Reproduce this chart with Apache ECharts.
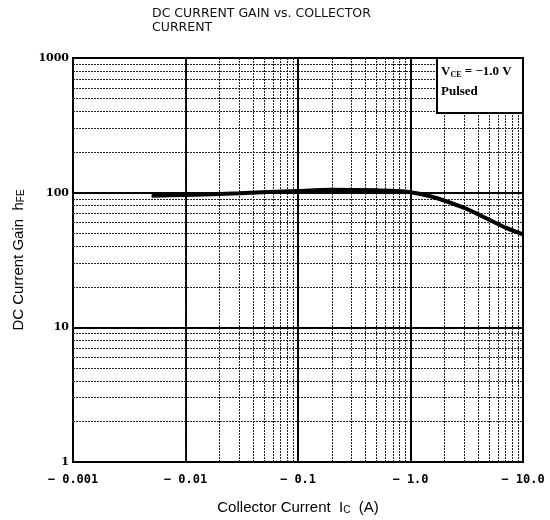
<!DOCTYPE html>
<html>
<head>
<meta charset="utf-8">
<script src="https://cdn.jsdelivr.net/npm/echarts@6/dist/echarts.min.js"></script>
<style>
  html, body { margin: 0; padding: 0; background: #fff; }
  #chart { width: 550px; height: 520px; }
</style>
</head>
<body>
<div id="chart"></div>
<script>
// collector current |Ic| (A) and DC current gain hFE
const current = [0.005, 0.01, 0.03, 0.1, 0.2, 0.5, 0.9, 1.5, 3, 5, 7, 10]
const gain = [95, 96, 99, 103, 105, 104, 102, 94, 77, 63, 55, 49]

// tick labels of the decades
const xTickLabels = ['\u2212 0.001', '\u2212 0.01', '\u2212 0.1', '\u2212 1.0', '\u2212 10.0']
const yTickLabels = ['1', '10', '100', '1000']

// log paper minor lines (2..9 of each decade)
const xMinor = [
  0.002, 0.003, 0.004, 0.005, 0.006, 0.007, 0.008, 0.009,
  0.02, 0.03, 0.04, 0.05, 0.06, 0.07, 0.08, 0.09,
  0.2, 0.3, 0.4, 0.5, 0.6, 0.7, 0.8, 0.9,
  2, 3, 4, 5, 6, 7, 8, 9
]
const yMinor = [
  2, 3, 4, 5, 6, 7, 8, 9,
  20, 30, 40, 50, 60, 70, 80, 90,
  200, 300, 400, 500, 600, 700, 800, 900
]

const chart = echarts.init(document.getElementById('chart'))

const minorLines = xMinor.map(v => ({ xAxis: v })).concat(yMinor.map(v => ({ yAxis: v })))

chart.setOption({
  animation: false,
  title: {
    text: 'DC CURRENT GAIN vs. COLLECTOR\nCURRENT',
    left: 147,
    top: 2,
    textStyle: {
      fontFamily: 'DejaVu Sans',
      fontSize: 12.5,
      fontWeight: 'normal',
      color: '#111',
      lineHeight: 14
    }
  },
  grid: {
    left: 73,
    right: 27,
    top: 58,
    bottom: 53,
    show: true,
    borderColor: '#000',
    borderWidth: 2
  },
  xAxis: {
    type: 'log',
    logBase: 10,
    min: 0.001,
    max: 10,
    name: '{n|Collector Current  I}{s|C}{n|  (A)}',
    nameLocation: 'middle',
    nameGap: 38,
    nameTextStyle: {
      rich: {
        n: { fontFamily: 'Liberation Sans', fontSize: 15, color: '#000' },
        s: { fontFamily: 'Liberation Sans', fontSize: 10, color: '#000', padding: [5, 0, 0, 0] }
      }
    },
    axisLine: { show: false },
    axisTick: { show: false },
    axisLabel: {
      margin: 12,
      fontFamily: 'DejaVu Sans Mono',
      fontWeight: 'bold',
      fontSize: 12,
      color: '#000',
      formatter: (v, i) => xTickLabels[i]
    },
    splitLine: { show: true, lineStyle: { color: '#000', width: 2 } }
  },
  yAxis: {
    type: 'log',
    logBase: 10,
    min: 1,
    max: 1000,
    name: '{n|DC Current Gain  h}{s|FE}',
    nameLocation: 'middle',
    nameGap: 47,
    nameTextStyle: {
      rich: {
        n: { fontFamily: 'Liberation Sans', fontSize: 15, color: '#000' },
        s: { fontFamily: 'Liberation Sans', fontSize: 10, color: '#000', padding: [5, 0, 0, 0] }
      }
    },
    axisLine: { show: false },
    axisTick: { show: false },
    axisLabel: {
      margin: 4,
      fontFamily: 'DejaVu Serif',
      fontWeight: 'bold',
      fontSize: 11,
      color: '#000',
      formatter: (v, i) => yTickLabels[i]
    },
    splitLine: { show: true, lineStyle: { color: '#000', width: 2 } }
  },
  series: [{
    type: 'line',
    data: current.map((c, i) => [c, gain[i]]),
    showSymbol: false,
    smooth: 0.25,
    lineStyle: { color: '#000', width: 4 },
    z: 5,
    markLine: {
      silent: true,
      symbol: 'none',
      label: { show: false },
      lineStyle: { color: '#222', width: 1, type: [2, 1] },
      data: minorLines,
      z: 1
    }
  }],
  graphic: [{
    type: 'rect',
    z: 100,
    zlevel: 1,
    shape: { x: 437, y: 58, width: 86, height: 55 },
    style: { fill: '#fff', stroke: '#000', lineWidth: 2 }
  }, {
    type: 'text',
    z: 101,
    zlevel: 1,
    x: 441,
    y: 65,
    style: {
      text: '{v|V}{s|CE}{v| = \u22121.0 V}',
      rich: {
        v: { fontFamily: 'Liberation Serif', fontWeight: 'bold', fontSize: 13, fill: '#000' },
        s: { fontFamily: 'Liberation Serif', fontWeight: 'bold', fontSize: 8, fill: '#000', padding: [6, 0, 0, 0] }
      }
    }
  }, {
    type: 'text',
    z: 101,
    zlevel: 1,
    x: 441,
    y: 85,
    style: { text: 'Pulsed', fontFamily: 'Liberation Serif', fontWeight: 'bold', fontSize: 13, fill: '#000' }
  }]
})
</script>
</body>
</html>
